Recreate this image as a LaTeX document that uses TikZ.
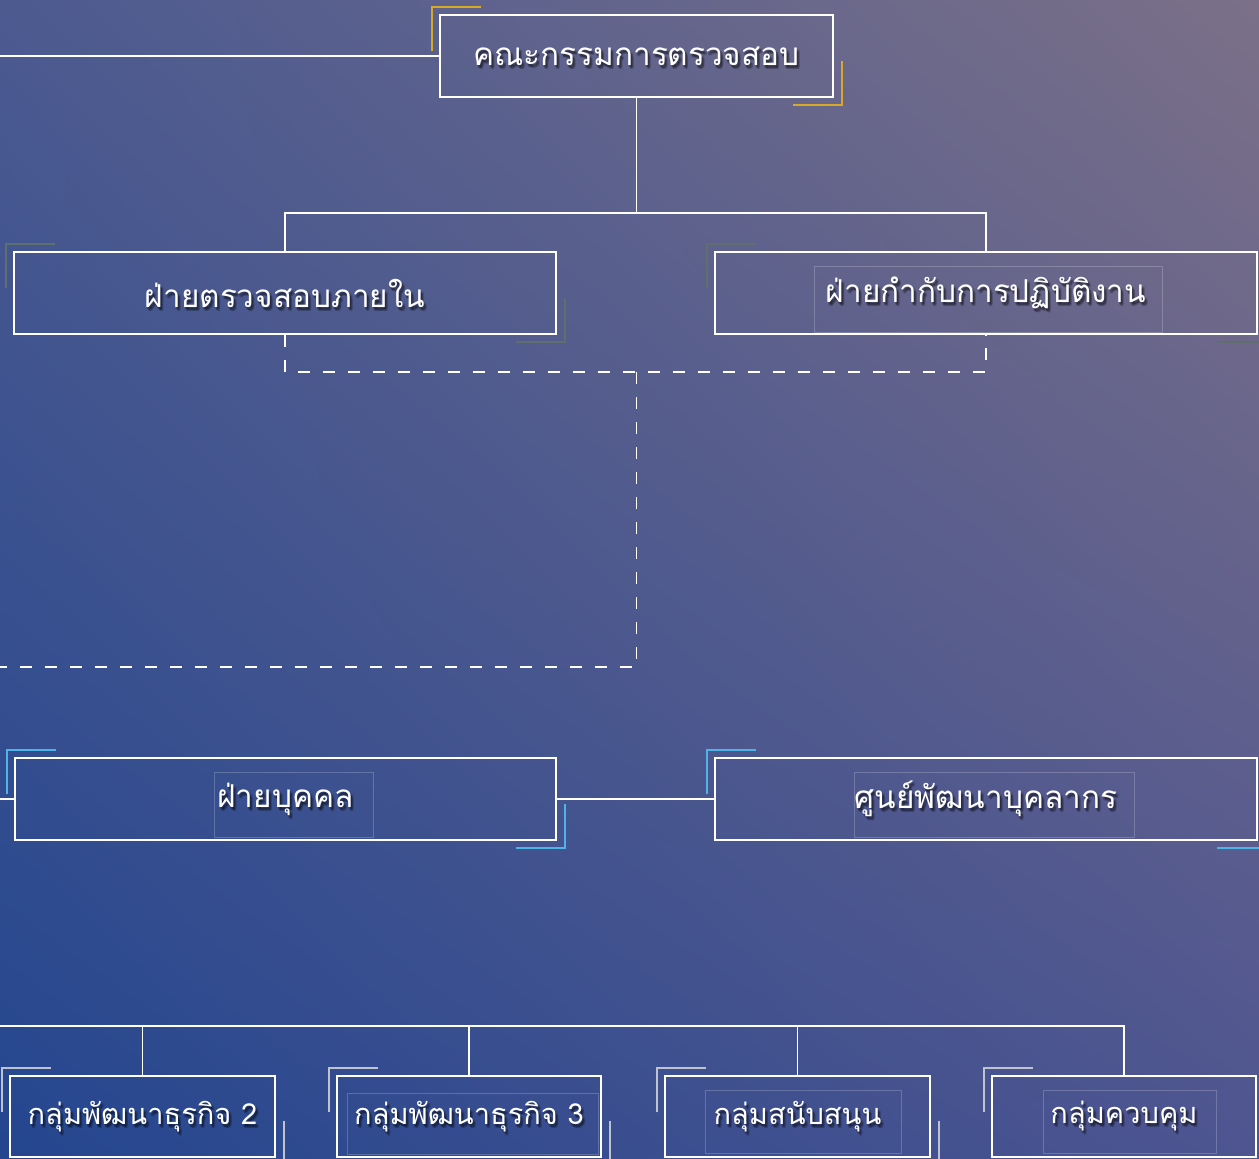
\documentclass[tikz,border=0pt]{standalone}
\usepackage{fontspec}
\usetikzlibrary{shadings}
\newfontfamily\thaifont[Script=Thai]{Loma}
\definecolor{bgTL}{HTML}{4C5A90}
\definecolor{bgTR}{HTML}{7B7088}
\definecolor{bgBL}{HTML}{24468F}
\definecolor{bgBR}{HTML}{4E5590}
\definecolor{accGold}{HTML}{D8A926}
\definecolor{accGrey}{HTML}{5E6F6E}
\definecolor{accBlue}{HTML}{4FB3E5}
\definecolor{accWhite}{HTML}{BFC3CF}
\pgfdeclarelayer{bglayer}
\pgfdeclarelayer{shadowlayer}
\pgfsetlayers{bglayer,shadowlayer,main}
\tikzset{
  bigfont/.style={font=\thaifont\fontsize{31.5}{36}\selectfont},
  smallfont/.style={font=\thaifont\fontsize{29}{34}\selectfont},
  box/.style={draw=white, line width=1.4pt, minimum width=542pt, minimum height=82pt,
    inner sep=0pt, text=white, bigfont},
  topbox/.style={box, minimum width=393pt},
  smallbox/.style={box, minimum width=265pt, minimum height=81pt, smallfont},
  shadowtxt/.style={inner sep=0pt, text=black, text opacity=0.13},
  link/.style={draw=white, line width=1.4pt},
  dlink/.style={link, dash pattern=on 12pt off 13pt},
  innerrect/.style={draw=white, draw opacity=0.2, line width=0.8pt},
  acc/.style={line width=2pt},
}
\newcommand\corners[2]{%
  \draw[acc,#2] ([shift={(-7,37)}]#1.north west) -- ([shift={(-7,-7)}]#1.north west) -- ([shift={(42,-7)}]#1.north west);
  \draw[acc,#2] ([shift={(8,-37)}]#1.south east) -- ([shift={(8,7)}]#1.south east) -- ([shift={(-41,7)}]#1.south east);}
\newcommand\txtshadow[3]{%
  \begin{pgfonlayer}{shadowlayer}
  \foreach \dx/\dy in {1/2,3/2,2/4,2/3,3/4,1/3}{\node[shadowtxt,#3] at ([shift={(\dx,\dy)}]#1.center) {#2};}
  \end{pgfonlayer}}
\begin{document}
\begin{tikzpicture}[x=1pt,y=-1pt]
\clip (0,0) rectangle (1259,1159);
\begin{pgfonlayer}{bglayer}
\shade[upper left=bgTL, upper right=bgTR, lower left=bgBL, lower right=bgBR] (0,0) rectangle (1259,1159);
\end{pgfonlayer}

% inner faint rectangles
\draw[innerrect] (814,266) rectangle (1162,332);
\draw[innerrect] (214,772) rectangle (373,837);
\draw[innerrect] (854,772) rectangle (1134,837);
\draw[innerrect] (347,1093) rectangle (598,1154);
\draw[innerrect] (705,1090) rectangle (901,1153);
\draw[innerrect] (1043,1090) rectangle (1216,1153);

% boxes
\node[topbox] (top) at (636.5,56) {คณะกรรมการตรวจสอบ};
\node[box] (audit) at (285,293) {ฝ่ายตรวจสอบภายใน};
\node[box] (comp) at (986,293) {ฝ่ายกำกับการปฏิบัติงาน};
\node[box, minimum width=541pt] (hr) at (285.5,799) {ฝ่ายบุคคล};
\node[box] (hrd) at (986,799) {ศูนย์พัฒนาบุคลากร};
\node[smallbox] (b1) at (142.5,1116.5) {กลุ่มพัฒนาธุรกิจ 2};
\node[smallbox, minimum width=264pt] (b2) at (469,1116.5) {กลุ่มพัฒนาธุรกิจ 3};
\node[smallbox] (b3) at (797.5,1116.5) {กลุ่มสนับสนุน};
\node[smallbox, minimum width=264pt] (b4) at (1124,1116.5) {กลุ่มควบคุม};

% text shadows
\txtshadow{top}{คณะกรรมการตรวจสอบ}{bigfont}
\txtshadow{audit}{ฝ่ายตรวจสอบภายใน}{bigfont}
\txtshadow{comp}{ฝ่ายกำกับการปฏิบัติงาน}{bigfont}
\txtshadow{hr}{ฝ่ายบุคคล}{bigfont}
\txtshadow{hrd}{ศูนย์พัฒนาบุคลากร}{bigfont}
\txtshadow{b1}{กลุ่มพัฒนาธุรกิจ 2}{smallfont}
\txtshadow{b2}{กลุ่มพัฒนาธุรกิจ 3}{smallfont}
\txtshadow{b3}{กลุ่มสนับสนุน}{smallfont}
\txtshadow{b4}{กลุ่มควบคุม}{smallfont}

% corner accents
\corners{top}{accGold}
\corners{audit}{accGrey}
\corners{comp}{accGrey}
\corners{hr}{accBlue}
\corners{hrd}{accBlue}
\corners{b1}{accWhite}
\corners{b2}{accWhite}
\corners{b3}{accWhite}
\corners{b4}{accWhite}

% connectors
\coordinate (lefttop) at (0,56);
\coordinate (j1) at (636.5,213);
\coordinate (jd) at (636.5,372);
\coordinate (jd2) at (636.5,667);
\coordinate (leftdash) at (0,667);
\coordinate (lefthr) at (0,799);
\coordinate (leftbot) at (0,1026);

\draw[link] (lefttop) -- (top.west);
\draw[link] (top.south) -- (j1);
\draw[link] (audit.north) |- (j1) -| (comp.north);
\draw[dlink] (audit.south) |- (jd) -| (comp.south);
\draw[dlink] (jd) -- (jd2) -- (leftdash);
\draw[link] (lefthr) -- (hr.west);
\draw[link] (hr.east) -- (hrd.west);
\draw[link] (leftbot) -| (b4.north);
\draw[link] (b1.north) -- (b1.north |- leftbot);
\draw[link] (b2.north) -- (b2.north |- leftbot);
\draw[link] (b3.north) -- (b3.north |- leftbot);
\end{tikzpicture}
\end{document}
